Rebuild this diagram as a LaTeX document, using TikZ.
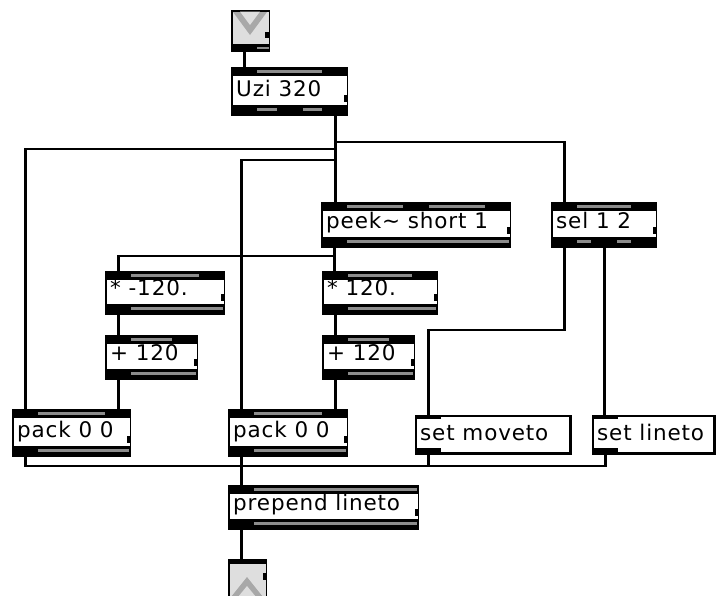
\documentclass[tikz,border=0pt]{standalone}
\usepackage{fontspec}
\setmainfont{DejaVu Sans}
\newfontfamily\mxfont{DejaVu Sans}[LetterSpace=4]
\usetikzlibrary{fit}
\definecolor{stripe}{gray}{0.55}
\definecolor{lightbox}{gray}{0.87}
\definecolor{wedge}{gray}{0.66}

% Max object box: name, x1, y1, x2, y2, text, #inlets, #outlets
\newcommand\mxobj[8]{%
  \fill[black] (#2,#3) rectangle (#4,#5);
  \fill[white] (#2+1.5,#3+8.5) rectangle (#4-1.5,#5-11);
  \fill[stripe] (#2+2,#3+3) rectangle (#4-2,#3+5.5);
  \fill[stripe] (#2+2,#5-8.5) rectangle (#4-2,#5-5.5);
  \pgfmathsetmacro\mxin{(#4-#2-26)/max(#7-1,1)}%
  \foreach \k in {1,...,#7}{%
    \pgfmathsetmacro\mxx{#2+(\k-1)*\mxin}%
    \fill[black] (\mxx,#3) rectangle (\mxx+26,#3+8.5);
    \coordinate (#1-i\k) at (\mxx+13.5,#3);
  }%
  \pgfmathsetmacro\mxout{(#4-#2-26)/max(#8-1,1)}%
  \foreach \k in {1,...,#8}{%
    \pgfmathsetmacro\mxx{#2+(\k-1)*\mxout}%
    \fill[black] (\mxx,#5-11) rectangle (\mxx+26,#5);
    \coordinate (#1-o\k) at (\mxx+13.5,#5);
  }%
  \fill[black] (#4-4.5,#5-21) rectangle (#4,#5-14);
  \node[lbl] at (#2+5,#5-19.5) {#6};
  \node[fit={(#2,#3) (#4,#5)}, inner sep=0pt] (#1) {};
}

% Max message box: name, x1, y1, x2, y2, text
\newcommand\mxmsg[6]{%
  \fill[black] (#2,#3) rectangle (#4,#5);
  \fill[white] (#2+1.5,#3+1.5) rectangle (#4-3,#5-3.5);
  \fill[black] (#2,#3) rectangle (#2+26,#3+4);
  \fill[black] (#2,#5-7) rectangle (#2+26,#5);
  \coordinate (#1-i1) at (#2+13.5,#3);
  \coordinate (#1-o1) at (#2+13.5,#5);
  \node[lbl] at (#2+5,#5-14.5) {#6};
  \node[fit={(#2,#3) (#4,#5)}, inner sep=0pt] (#1) {};
}

\begin{document}
\begin{tikzpicture}[x=1pt,y=-1pt,
  wire/.style={line width=2.4pt, black},
  lbl/.style={anchor=base west, inner sep=0pt, font=\mxfont\fontsize{21.5}{24}\selectfont}]
\useasboundingbox (0,0) rectangle (717,595);
\fill[white] (0,0) rectangle (717,595);

% top inlet box
\fill[black] (231,10) rectangle (270,52);
\fill[lightbox] (232.5,11.5) rectangle (268.5,43.5);
\fill[wedge] (233,12) -- (267,12) -- (250,35) -- cycle;
\fill[lightbox] (240,11.5) -- (260,11.5) -- (250,25) -- cycle;
\fill[stripe] (257,46.5) rectangle (268.5,48.5);
\fill[black] (265,32) rectangle (270,38);
\node[fit={(231,10) (270,52)}, inner sep=0pt] (tin) {};
\coordinate (tin-o1) at (244.5,52);

% objects
\mxobj{uzi}{231}{67}{348}{116}{Uzi 320}{2}{3}
\mxobj{peek}{321}{202}{511}{248}{peek\char`~\ short 1}{3}{1}
\mxobj{sel}{551}{202}{657}{248}{sel 1 2}{2}{3}
\mxobj{mulL}{105}{271}{225}{315}{* -120.}{2}{1}
\mxobj{addL}{105}{335}{198}{380}{+ 120}{2}{1}
\mxobj{mulR}{322}{271}{438}{315}{* 120.}{2}{1}
\mxobj{addR}{322}{335}{415}{380}{+ 120}{2}{1}
\mxobj{packL}{12}{409}{131}{457}{pack 0 0}{2}{1}
\mxobj{packR}{228}{409}{348}{457}{pack 0 0}{2}{1}
\mxmsg{mov}{415}{415}{572}{455}{set moveto}
\mxmsg{lin}{592}{415}{716}{455}{set lineto}
\mxobj{prep}{228}{485}{419}{530}{prepend lineto}{1}{1}

% bottom outlet box
\fill[black] (228,559) rectangle (267,605);
\fill[lightbox] (229.5,563.5) rectangle (265.5,605);
\fill[black] (228,559) rectangle (254,564);
\fill[wedge] (231,597) -- (263,597) -- (247,577) -- cycle;
\fill[lightbox] (238,597) -- (256,597) -- (247,586) -- cycle;
\fill[black] (263,573) rectangle (267,580);
\node[fit={(228,559) (267,600)}, inner sep=0pt] (tout) {};
\coordinate (tout-i1) at (242.5,559);

% wiring levels
\coordinate (yA) at (0,142.25);
\coordinate (yB) at (0,149.25);
\coordinate (yC) at (0,160.25);
\coordinate (yD) at (0,256.25);
\coordinate (yE) at (0,330.25);
\coordinate (yF) at (0,466.25);

% connectors
\draw[wire] (tin-o1) -- (tin-o1 |- uzi-i1);
\draw[wire] (uzi-o3) -- (uzi-o3 |- peek-i1);
\draw[wire] (uzi-o3 |- yA) -| (sel-i1);
\draw[wire] (uzi-o3 |- yB) -| (packL-i1);
\draw[wire] (uzi-o3 |- yC) -| (packR-i1);
\draw[wire] (peek-o1) -- (peek-o1 |- mulR-i1);
\draw[wire] (peek-o1 |- yD) -| (mulL-i1);
\draw[wire] (mulL-o1) -- (addL-i1);
\draw[wire] (addL-o1) -- (addL-o1 |- packL-i2);
\draw[wire] (mulR-o1) -- (addR-i1);
\draw[wire] (addR-o1) -- (addR-o1 |- packR-i2);
\draw[wire] (sel-o1) -- (sel-o1 |- yE) -| (mov-i1);
\draw[wire] (sel-o2) -- (sel-o2 |- lin-i1);
\draw[wire] (packL-o1) |- (lin-o1 |- yF) -- (lin-o1);
\draw[wire] (mov-o1) -- (mov-o1 |- yF);
\draw[wire] (packR-o1) -- (prep-i1);
\draw[wire] (prep-o1) -- (prep-o1 |- tout-i1);
\end{tikzpicture}
\end{document}
